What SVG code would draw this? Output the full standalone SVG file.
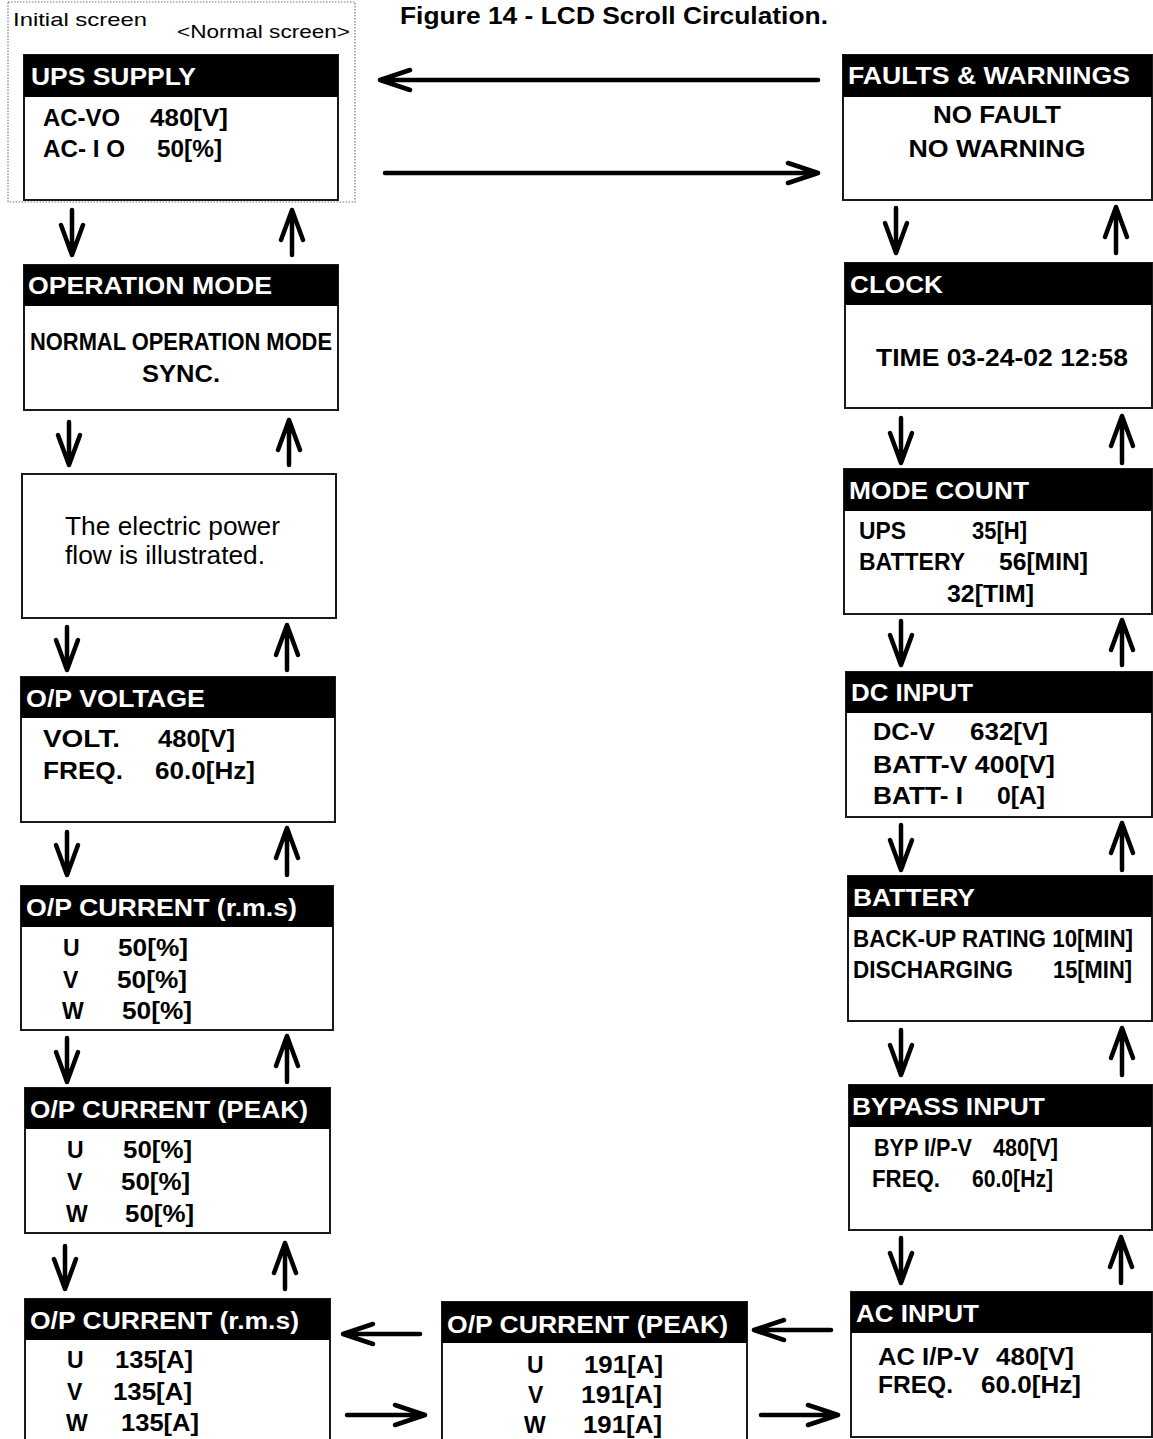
<svg xmlns="http://www.w3.org/2000/svg" width="1153" height="1439" viewBox="0 0 1153 1439">
<style>
.bg{fill:#fff}
.box{fill:#fff;stroke:#1a1a1a;stroke-width:2}
.hdr{fill:#000}
.t{font-family:"Liberation Sans",Arial,Helvetica,sans-serif;font-weight:bold;font-size:24px;fill:#fff}
.b{font-family:"Liberation Sans",Arial,Helvetica,sans-serif;font-weight:bold;font-size:23px;fill:#000}
.r{font-family:"Liberation Sans",Arial,Helvetica,sans-serif;font-size:25px;fill:#000}
.s{font-family:"Liberation Sans",Arial,Helvetica,sans-serif;font-size:19px;fill:#000}
.arr{fill:none;stroke:#000;stroke-width:4.5;stroke-linecap:round;stroke-linejoin:round}
</style>
<rect class="bg" x="0" y="0" width="1153" height="1439"/>
<text class="b" x="400" y="24" font-size="19" textLength="428" lengthAdjust="spacingAndGlyphs">Figure 14 - LCD Scroll Circulation.</text>

<g id="initial-frame">
<rect x="8" y="2" width="347" height="200" fill="none" stroke="#777" stroke-width="1.2" stroke-dasharray="1.5 1.5"/>
<text class="s" x="13" y="26" textLength="134" lengthAdjust="spacingAndGlyphs">Initial screen</text>
<text class="s" x="177" y="38" textLength="173" lengthAdjust="spacingAndGlyphs">&lt;Normal screen&gt;</text>
</g>

<g id="ups-supply">
<rect class="box" x="24" y="55" width="314" height="145"/>
<rect class="hdr" x="24" y="55" width="314" height="42"/>
<text class="t" x="31" y="85" textLength="165" lengthAdjust="spacingAndGlyphs">UPS SUPPLY</text>
<text class="b" x="43" y="126" textLength="77" lengthAdjust="spacingAndGlyphs">AC-VO</text>
<text class="b" x="150" y="126" textLength="78" lengthAdjust="spacingAndGlyphs">480[V]</text>
<text class="b" x="43" y="157" textLength="82" lengthAdjust="spacingAndGlyphs">AC- I O</text>
<text class="b" x="157" y="157" textLength="65" lengthAdjust="spacingAndGlyphs">50[%]</text>
</g>

<g id="faults-warnings">
<rect class="box" x="843" y="55" width="309" height="145"/>
<rect class="hdr" x="843" y="55" width="309" height="42"/>
<text class="t" x="848" y="84" textLength="282" lengthAdjust="spacingAndGlyphs">FAULTS &amp; WARNINGS</text>
<text class="b" x="997" y="123" text-anchor="middle" textLength="128" lengthAdjust="spacingAndGlyphs">NO FAULT</text>
<text class="b" x="997" y="157" text-anchor="middle" textLength="177" lengthAdjust="spacingAndGlyphs">NO WARNING</text>
</g>

<g id="operation-mode">
<rect class="box" x="24" y="265" width="314" height="145"/>
<rect class="hdr" x="24" y="265" width="314" height="41"/>
<text class="t" x="28" y="294" textLength="244" lengthAdjust="spacingAndGlyphs">OPERATION MODE</text>
<text class="b" x="30" y="350" textLength="302" lengthAdjust="spacingAndGlyphs">NORMAL OPERATION MODE</text>
<text class="b" x="142" y="382" textLength="78" lengthAdjust="spacingAndGlyphs">SYNC.</text>
</g>

<g id="clock">
<rect class="box" x="845" y="263" width="307" height="145"/>
<rect class="hdr" x="845" y="263" width="307" height="42"/>
<text class="t" x="850" y="293" textLength="93" lengthAdjust="spacingAndGlyphs">CLOCK</text>
<text class="b" x="876" y="366" textLength="252" lengthAdjust="spacingAndGlyphs">TIME 03-24-02 12:58</text>
</g>

<g id="power-flow">
<rect class="box" x="22" y="474" width="314" height="144"/>
<text class="r" x="65" y="535" textLength="215" lengthAdjust="spacingAndGlyphs">The electric power</text>
<text class="r" x="65" y="564" textLength="200" lengthAdjust="spacingAndGlyphs">flow is illustrated.</text>
</g>

<g id="mode-count">
<rect class="box" x="844" y="469" width="308" height="145"/>
<rect class="hdr" x="844" y="469" width="308" height="42"/>
<text class="t" x="849" y="499" textLength="180" lengthAdjust="spacingAndGlyphs">MODE COUNT</text>
<text class="b" x="859" y="539" textLength="47" lengthAdjust="spacingAndGlyphs">UPS</text>
<text class="b" x="972" y="539" textLength="55" lengthAdjust="spacingAndGlyphs">35[H]</text>
<text class="b" x="859" y="570" textLength="106" lengthAdjust="spacingAndGlyphs">BATTERY</text>
<text class="b" x="999" y="570" textLength="89" lengthAdjust="spacingAndGlyphs">56[MIN]</text>
<text class="b" x="947" y="602" textLength="87" lengthAdjust="spacingAndGlyphs">32[TIM]</text>
</g>

<g id="op-voltage">
<rect class="box" x="21" y="677" width="314" height="145"/>
<rect class="hdr" x="21" y="677" width="314" height="41"/>
<text class="t" x="26" y="707" textLength="179" lengthAdjust="spacingAndGlyphs">O/P VOLTAGE</text>
<text class="b" x="43" y="747" textLength="77" lengthAdjust="spacingAndGlyphs">VOLT.</text>
<text class="b" x="158" y="747" textLength="77" lengthAdjust="spacingAndGlyphs">480[V]</text>
<text class="b" x="43" y="779" textLength="80" lengthAdjust="spacingAndGlyphs">FREQ.</text>
<text class="b" x="155" y="779" textLength="100" lengthAdjust="spacingAndGlyphs">60.0[Hz]</text>
</g>

<g id="dc-input">
<rect class="box" x="846" y="672" width="306" height="145"/>
<rect class="hdr" x="846" y="672" width="306" height="41"/>
<text class="t" x="851" y="701" textLength="122" lengthAdjust="spacingAndGlyphs">DC INPUT</text>
<text class="b" x="873" y="740" textLength="62" lengthAdjust="spacingAndGlyphs">DC-V</text>
<text class="b" x="970" y="740" textLength="78" lengthAdjust="spacingAndGlyphs">632[V]</text>
<text class="b" x="873" y="773" textLength="182" lengthAdjust="spacingAndGlyphs">BATT-V 400[V]</text>
<text class="b" x="873" y="804" textLength="90" lengthAdjust="spacingAndGlyphs">BATT- I</text>
<text class="b" x="997" y="804" textLength="48" lengthAdjust="spacingAndGlyphs">0[A]</text>
</g>

<g id="op-current-rms-pct">
<rect class="box" x="21" y="886" width="312" height="144"/>
<rect class="hdr" x="21" y="886" width="312" height="41"/>
<text class="t" x="26" y="916" textLength="271" lengthAdjust="spacingAndGlyphs">O/P CURRENT (r.m.s)</text>
<text class="b" x="63" y="956">U</text>
<text class="b" x="118" y="956" textLength="70" lengthAdjust="spacingAndGlyphs">50[%]</text>
<text class="b" x="63" y="988">V</text>
<text class="b" x="117" y="988" textLength="70" lengthAdjust="spacingAndGlyphs">50[%]</text>
<text class="b" x="62" y="1019">W</text>
<text class="b" x="122" y="1019" textLength="70" lengthAdjust="spacingAndGlyphs">50[%]</text>
</g>

<g id="battery">
<rect class="box" x="848" y="876" width="304" height="145"/>
<rect class="hdr" x="848" y="876" width="304" height="41"/>
<text class="t" x="853" y="906" textLength="122" lengthAdjust="spacingAndGlyphs">BATTERY</text>
<text class="b" x="853" y="947" textLength="280" lengthAdjust="spacingAndGlyphs">BACK-UP RATING 10[MIN]</text>
<text class="b" x="853" y="978" textLength="160" lengthAdjust="spacingAndGlyphs">DISCHARGING</text>
<text class="b" x="1053" y="978" textLength="79" lengthAdjust="spacingAndGlyphs">15[MIN]</text>
</g>

<g id="op-current-peak-pct">
<rect class="box" x="25" y="1088" width="305" height="145"/>
<rect class="hdr" x="25" y="1088" width="305" height="41"/>
<text class="t" x="30" y="1118" textLength="278" lengthAdjust="spacingAndGlyphs">O/P CURRENT (PEAK)</text>
<text class="b" x="67" y="1158">U</text>
<text class="b" x="123" y="1158" textLength="69" lengthAdjust="spacingAndGlyphs">50[%]</text>
<text class="b" x="67" y="1190">V</text>
<text class="b" x="121" y="1190" textLength="69" lengthAdjust="spacingAndGlyphs">50[%]</text>
<text class="b" x="66" y="1222">W</text>
<text class="b" x="125" y="1222" textLength="69" lengthAdjust="spacingAndGlyphs">50[%]</text>
</g>

<g id="bypass-input">
<rect class="box" x="849" y="1085" width="303" height="145"/>
<rect class="hdr" x="849" y="1085" width="303" height="42"/>
<text class="t" x="852" y="1115" textLength="193" lengthAdjust="spacingAndGlyphs">BYPASS INPUT</text>
<text class="b" x="874" y="1156" textLength="98" lengthAdjust="spacingAndGlyphs">BYP I/P-V</text>
<text class="b" x="993" y="1156" textLength="65" lengthAdjust="spacingAndGlyphs">480[V]</text>
<text class="b" x="872" y="1187" textLength="68" lengthAdjust="spacingAndGlyphs">FREQ.</text>
<text class="b" x="972" y="1187" textLength="81" lengthAdjust="spacingAndGlyphs">60.0[Hz]</text>
</g>

<g id="op-current-rms-amp">
<rect class="box" x="25" y="1299" width="305" height="150"/>
<rect class="hdr" x="25" y="1299" width="305" height="41"/>
<text class="t" x="30" y="1329" textLength="269" lengthAdjust="spacingAndGlyphs">O/P CURRENT (r.m.s)</text>
<text class="b" x="67" y="1368">U</text>
<text class="b" x="115" y="1368" textLength="78" lengthAdjust="spacingAndGlyphs">135[A]</text>
<text class="b" x="67" y="1400">V</text>
<text class="b" x="113" y="1400" textLength="79" lengthAdjust="spacingAndGlyphs">135[A]</text>
<text class="b" x="66" y="1431">W</text>
<text class="b" x="121" y="1431" textLength="78" lengthAdjust="spacingAndGlyphs">135[A]</text>
</g>

<g id="op-current-peak-amp">
<rect class="box" x="442" y="1302" width="305" height="150"/>
<rect class="hdr" x="442" y="1302" width="305" height="41"/>
<text class="t" x="447" y="1333" textLength="281" lengthAdjust="spacingAndGlyphs">O/P CURRENT (PEAK)</text>
<text class="b" x="527" y="1373">U</text>
<text class="b" x="584" y="1373" textLength="79" lengthAdjust="spacingAndGlyphs">191[A]</text>
<text class="b" x="528" y="1403">V</text>
<text class="b" x="581" y="1403" textLength="81" lengthAdjust="spacingAndGlyphs">191[A]</text>
<text class="b" x="524" y="1433">W</text>
<text class="b" x="583" y="1433" textLength="79" lengthAdjust="spacingAndGlyphs">191[A]</text>
</g>

<g id="ac-input">
<rect class="box" x="851" y="1292" width="301" height="145"/>
<rect class="hdr" x="851" y="1292" width="301" height="41"/>
<text class="t" x="856" y="1322" textLength="123" lengthAdjust="spacingAndGlyphs">AC INPUT</text>
<text class="b" x="878" y="1365" textLength="101" lengthAdjust="spacingAndGlyphs">AC I/P-V</text>
<text class="b" x="996" y="1365" textLength="78" lengthAdjust="spacingAndGlyphs">480[V]</text>
<text class="b" x="878" y="1393" textLength="75" lengthAdjust="spacingAndGlyphs">FREQ.</text>
<text class="b" x="981" y="1393" textLength="100" lengthAdjust="spacingAndGlyphs">60.0[Hz]</text>
</g>

<g id="connectors" class="arr">
<path d="M818 80 H380 M410 70 L380 80 L410 90"/>
<path d="M385 173 H818 M788 163 L818 173 L788 183"/>
<path d="M72 210 V255 M61 225 L72 255 L83 225"/>
<path d="M292 255 V210 M281 240 L292 210 L303 240"/>
<path d="M69 422 V465 M58 435 L69 465 L80 435"/>
<path d="M289 465 V420 M278 450 L289 420 L300 450"/>
<path d="M67 627 V670 M56 640 L67 670 L78 640"/>
<path d="M287 670 V625 M276 655 L287 625 L298 655"/>
<path d="M67 832 V875 M56 845 L67 875 L78 845"/>
<path d="M287 875 V828 M276 858 L287 828 L298 858"/>
<path d="M67 1038 V1082 M56 1052 L67 1082 L78 1052"/>
<path d="M287 1082 V1036 M276 1066 L287 1036 L298 1066"/>
<path d="M65 1246 V1289 M54 1259 L65 1289 L76 1259"/>
<path d="M285 1289 V1243 M274 1273 L285 1243 L296 1273"/>
<path d="M896 208 V253 M885 223 L896 253 L907 223"/>
<path d="M1116 253 V207 M1105 237 L1116 207 L1127 237"/>
<path d="M901 418 V463 M890 433 L901 463 L912 433"/>
<path d="M1122 463 V416 M1111 446 L1122 416 L1133 446"/>
<path d="M901 621 V665 M890 635 L901 665 L912 635"/>
<path d="M1122 665 V620 M1111 650 L1122 620 L1133 650"/>
<path d="M901 825 V870 M890 840 L901 870 L912 840"/>
<path d="M1122 870 V823 M1111 853 L1122 823 L1133 853"/>
<path d="M901 1030 V1075 M890 1045 L901 1075 L912 1045"/>
<path d="M1122 1075 V1028 M1111 1058 L1122 1028 L1133 1058"/>
<path d="M901 1238 V1283 M890 1253 L901 1283 L912 1253"/>
<path d="M1121 1283 V1237 M1110 1267 L1121 1237 L1132 1267"/>
<path d="M420 1334 H343 M373 1324 L343 1334 L373 1344"/>
<path d="M347 1415 H425 M395 1405 L425 1415 L395 1425"/>
<path d="M831 1330 H754 M784 1320 L754 1330 L784 1340"/>
<path d="M761 1415 H838 M808 1405 L838 1415 L808 1425"/>
</g>
</svg>
